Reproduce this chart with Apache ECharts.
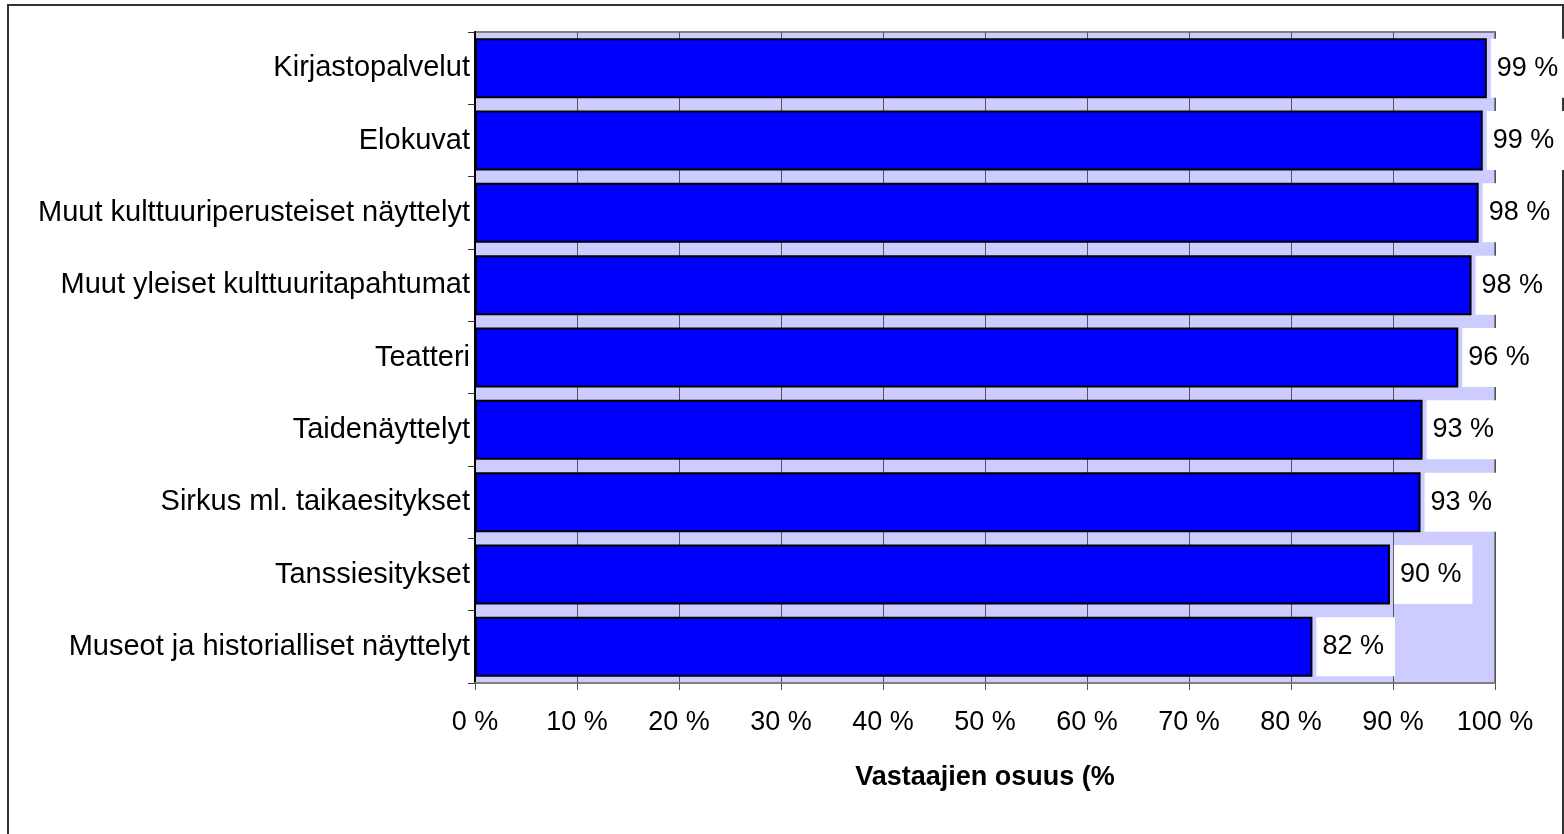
<!DOCTYPE html>
<html>
<head>
<meta charset="utf-8">
<script src="https://cdn.jsdelivr.net/npm/echarts@6/dist/echarts.min.js"></script>
<style>
html,body{margin:0;padding:0;background:#fff;}
#chart{width:1564px;height:834px;}
</style>
</head>
<body>
<div id="chart"></div>
<script>
var categories = [
  "Kirjastopalvelut",
  "Elokuvat",
  "Muut kulttuuriperusteiset näyttelyt",
  "Muut yleiset kulttuuritapahtumat",
  "Teatteri",
  "Taidenäyttelyt",
  "Sirkus ml. taikaesitykset",
  "Tanssiesitykset",
  "Museot ja historialliset näyttelyt"
];
var values = [99.2, 98.8, 98.4, 97.7, 96.4, 92.9, 92.7, 89.7, 82.1];
var valueLabels = ["99 %", "99 %", "98 %", "98 %", "96 %", "93 %", "93 %", "90 %", "82 %"];
var xTicks = [0, 10, 20, 30, 40, 50, 60, 70, 80, 90, 100];
var axisTitle = "Vastaajien osuus (%";

var FONT = "Arial, 'Liberation Sans', sans-serif";
var chart = echarts.init(document.getElementById('chart'), null, {renderer: 'canvas'});
chart.setOption({
  animation: false,
  backgroundColor: '#ffffff',
  graphic: [{
    type: 'rect',
    shape: {x: 8, y: 5, width: 1555, height: 840},
    style: {fill: 'none', stroke: '#333', lineWidth: 2},
    silent: true,
    z: -10
  }],
  grid: {
    left: 475, right: 69, top: 32, bottom: 151,
    show: true, backgroundColor: '#CCCCFF', borderColor: '#808080', borderWidth: 2
  },
  xAxis: {
    type: 'value',
    min: xTicks[0], max: xTicks[xTicks.length - 1], interval: 10,
    name: axisTitle,
    nameLocation: 'middle',
    nameGap: 81,
    nameTextStyle: {fontFamily: FONT, fontSize: 27, fontWeight: 'bold', color: '#000'},
    axisLine: {show: true, lineStyle: {color: '#808080', width: 2}},
    axisTick: {show: true, length: 7, lineStyle: {color: '#555', width: 1}},
    axisLabel: {
      margin: 26, fontFamily: FONT, fontSize: 27, color: '#000',
      formatter: function (v) { return v + ' %'; }
    },
    splitLine: {show: true, lineStyle: {color: '#555', width: 1}}
  },
  yAxis: {
    type: 'category',
    inverse: true,
    data: categories,
    axisLine: {show: true, lineStyle: {color: '#000', width: 2}},
    axisTick: {show: true, length: 7, lineStyle: {color: '#333', width: 1}},
    axisLabel: {margin: 5, fontFamily: FONT, fontSize: 29, color: '#000'},
    splitLine: {show: false}
  },
  series: [{
    type: 'bar',
    data: values,
    barCategoryGap: '17%',
    itemStyle: {color: '#0000FF', borderColor: '#000', borderWidth: 2},
    label: {
      show: true,
      position: 'right',
      distance: 4,
      formatter: function (p) { return valueLabels[p.dataIndex]; },
      fontFamily: FONT, fontSize: 27, color: '#000',
      backgroundColor: '#ffffff',
      padding: [16, 11, 16, 6]
    }
  }]
});
</script>
</body>
</html>
